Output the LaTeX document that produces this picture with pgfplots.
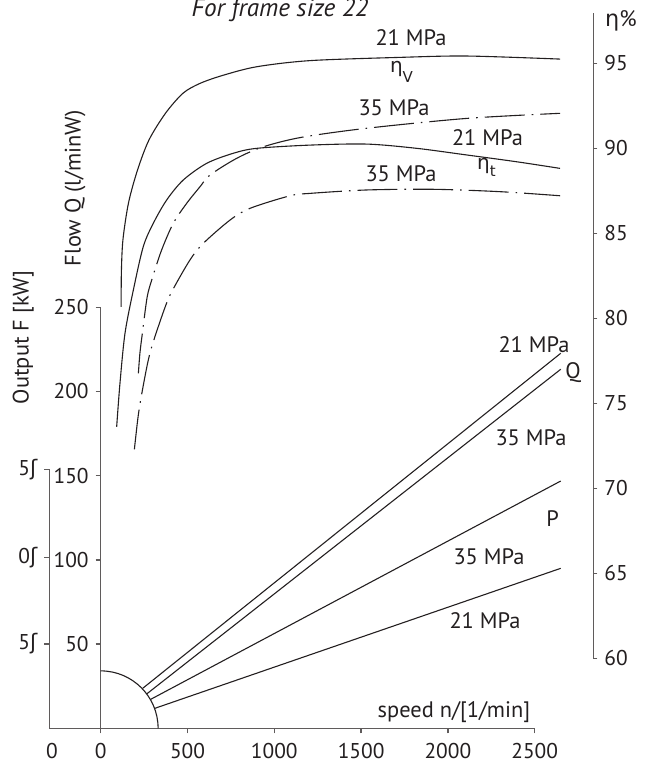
\documentclass[border=0pt]{standalone}
\usepackage{fontspec}
\setmainfont{PT Sans}
\newfontfamily\gk{DejaVu Sans}
\usepackage{pgfplots}
\usepackage{pgfplotstable}
\pgfplotsset{compat=1.18}
\definecolor{ink}{HTML}{231F20}
\definecolor{axc}{HTML}{5F5B5B}
\newcommand{\lbl}{\fontsize{11.2}{13}\selectfont}
\newcommand{\tkl}{\fontsize{10.7}{12}\selectfont}
\tikzset{dd/.style={dash pattern=on 20pt off 3.5pt on 0.8pt off 3.5pt}}

% efficiency curves: speed n [1/min], eta [%]
\pgfplotstableread{
n eta
118 80.68
119 82.66
128 84.61
160 86.78
212 88.72
278 90.49
373 92.06
474 93.24
572 93.82
706 94.30
899 94.80
1206 95.16
1722 95.35
2108 95.43
2646 95.25
}\etaVa
\pgfplotstableread{
n eta
217 76.76
226 77.96
240 79.12
268 81.27
300 82.45
351 84.02
418 85.59
495 86.76
572 87.74
630 88.43
783 89.41
937 90.09
1158 90.65
1532 91.18
2108 91.76
2646 92.06
}\etaVb
\pgfplotstableread{
n eta
92 73.62
111 76.18
140 79.12
188 81.66
245 84.21
303 85.59
380 86.96
476 88.14
611 89.12
764 89.71
899 90.00
1206 90.19
1532 90.25
1820 90.00
2108 89.61
2396 89.21
2646 88.82
}\etaTa
\pgfplotstableread{
n eta
194 72.29
213 74.02
230 75.19
268 77.25
297 78.43
365 80.49
409 81.56
514 83.43
591 84.41
745 85.78
860 86.47
1091 87.21
1206 87.35
1532 87.55
1916 87.59
2300 87.45
2646 87.21
}\etaTb

\begin{document}
\begin{tikzpicture}[x=1pt,y=1pt]
\useasboundingbox (0,0) rectangle (324.5,382);

% main axis: output / flow vs speed
\begin{axis}[
  at={(50.35pt,17.85pt)}, anchor=south west, scale only axis,
  width=217pt, height=210.5pt,
  xmin=0, xmax=2500, ymin=0, ymax=250,
  axis x line*=bottom, axis y line*=left,
  axis line style={axc, line width=0.7pt},
  xtick={0,500,...,2500}, ytick={50,100,...,250},
  tick align=outside, major tick length=2.5pt,
  tick style={axc, line width=0.7pt},
  ticklabel style={font=\tkl, text=ink},
  xticklabel style={yshift=-1.5pt},
  /pgf/number format/assume math mode=true,
  /pgf/number format/1000 sep={},
  xlabel={speed n/[1/min]},
  xlabel style={at={(rel axis cs:0.814,0.0245)}, anchor=base, font=\lbl, text=ink},
  ylabel={Output F [kW]},
  ylabel style={at={(rel axis cs:-0.1783,0.9283)}, anchor=center, font=\lbl, text=ink},
  clip=false,
]
\addplot[ink, line width=0.55pt] coordinates {(242,23.75) (2650,222.7)};
\addplot[ink, line width=0.55pt] coordinates {(265,20.4) (2650,213.2)};
\addplot[ink, line width=0.55pt] coordinates {(288,17.2) (2650,146.85)};
\addplot[ink, line width=0.55pt] coordinates {(313,11.9) (2650,95.0)};
\draw[ink, line width=0.55pt] (axis cs:0,34.1) arc[start angle=90, end angle=0, radius=28.7pt];
\end{axis}

% outer left axis
\begin{axis}[
  at={(24.65pt,17.85pt)}, anchor=south west, scale only axis,
  width=25.7pt, height=129.5pt,
  xmin=-296, xmax=0, ymin=0, ymax=153.8,
  axis x line*=bottom, axis y line*=left,
  axis line style={axc, line width=0.7pt},
  xtick={-296}, xticklabels={0},
  x tick style={draw=none},
  xticklabel style={yshift=-1.5pt, xshift=1.3pt},
  ytick={50.06,101.5,153.8},
  yticklabels={5{\gk ʃ},0{\gk ʃ},5{\gk ʃ}},
  tick align=outside, major tick length=2.5pt,
  tick style={axc, line width=0.7pt},
  ticklabel style={font=\tkl, text=ink},
]
\end{axis}

% right efficiency axis
\begin{axis}[
  at={(50.35pt,52.85pt)}, anchor=south west, scale only axis,
  width=246.3pt, height=322.8pt,
  xmin=0, xmax=2837.6, ymin=60, ymax=97.98,
  axis x line=none, axis y line*=right,
  axis line style={axc, line width=0.7pt},
  ytick={60,65,...,95},
  tick align=outside, major tick length=2pt,
  tick style={axc, line width=0.7pt},
  ticklabel style={font=\tkl, text=ink},
  /pgf/number format/assume math mode=true,
  ylabel={{\gk η}\%},
  ylabel style={at={(rel axis cs:1.0562,0.9871)}, anchor=center, rotate=-90, font=\lbl, text=ink},
]
\addplot[ink, line width=0.55pt, smooth] table[x=n, y=eta] {\etaVa};
\addplot[ink, line width=0.55pt, smooth, dd] table[x=n, y=eta] {\etaVb};
\addplot[ink, line width=0.55pt, smooth] table[x=n, y=eta] {\etaTa};
\addplot[ink, line width=0.55pt, smooth, dd] table[x=n, y=eta] {\etaTb};
\end{axis}

% text labels
\node[anchor=base, font=\fontsize{12.6}{14}\selectfont\itshape, text=ink] at (140,373.75) {For frame size 22};
\node[font=\lbl, text=ink, rotate=90] at (37.5,287.85) {Flow Q (l/minW)};
\node[font=\lbl, text=ink] at (205.5,363.25) {21 MPa};
\node[anchor=base, text=ink, inner sep=0pt] at (200.75,345.5) {\fontsize{10}{12}\selectfont\gk η\raisebox{-0.9ex}{\fontsize{7.5}{9}\selectfont V}};
\node[font=\lbl, text=ink] at (197,328.25) {35 MPa};
\node[font=\lbl, text=ink] at (243.75,313.25) {21 MPa};
\node[anchor=base, text=ink, inner sep=0pt] at (243.25,297) {\fontsize{10}{12}\selectfont\gk η\raisebox{-0.6ex}{\fontsize{7.5}{9}\selectfont t}};
\node[font=\lbl, text=ink] at (200.5,295) {35 MPa};
\node[font=\lbl, text=ink] at (267,209.5) {21 MPa};
\node[font=\lbl, text=ink] at (286.5,195.75) {Q};
\node[font=\lbl, text=ink] at (265.5,163) {35 MPa};
\node[font=\lbl, text=ink] at (276.25,122.5) {P};
\node[font=\lbl, text=ink] at (244.5,103.75) {35 MPa};
\node[font=\lbl, text=ink] at (242.5,71.5) {21 MPa};
\end{tikzpicture}
\end{document}
